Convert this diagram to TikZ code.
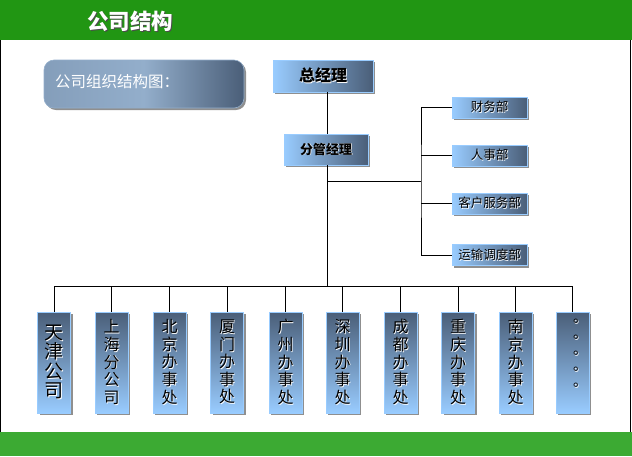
\documentclass[tikz,border=0pt]{standalone}
\usepackage{fontspec}
\setmainfont{Noto Sans CJK SC}
\newfontfamily\cjk{Noto Sans CJK SC}
\usetikzlibrary{shadows}
\definecolor{gtop}{HTML}{219613}
\definecolor{gbot}{HTML}{3CAA33}
\definecolor{lb}{HTML}{99CCFF}
\definecolor{db}{HTML}{4A5E78}
\definecolor{mb}{HTML}{93AECB}
\newcommand\emb[1]{\makebox[0pt][l]{\hspace{0.9pt}\raisebox{-0.9pt}{\color{white}#1}}#1}
\newcommand\embd[1]{\makebox[0pt][l]{\hspace{0.9pt}\raisebox{-0.9pt}{\color{black!70}#1}}#1}
\tikzset{
  shad/.style={drop shadow={shadow xshift=2pt,shadow yshift=-2pt,fill=black!55,opacity=.8}},
  hbox/.style={shad,draw=lb,line width=0.6pt,left color=lb,right color=db,inner sep=0pt,text=black},
  vbox/.style={shad,draw=lb,line width=0.6pt,top color=db,bottom color=lb,inner sep=0pt,
     minimum width=33pt,minimum height=101pt,align=center,text=black,
     font=\cjk\fontsize{16}{17.6}\selectfont},
  link/.style={draw=black,line width=0.9pt},
}
\begin{document}
\begin{tikzpicture}[x=1pt,y=-1pt]
\useasboundingbox (0,0) rectangle (632,456);
% bars and frame
\fill[gtop] (0,0) rectangle (632,40);
\fill[gbot] (0,432) rectangle (632,456);
\draw[black,line width=1pt] (0.5,40) -- (0.5,432);
\draw[black,line width=1pt] (630.5,40) -- (630.5,432);
\node[anchor=west,inner sep=0pt,text=white,font=\cjk\bfseries\fontsize{21.5}{21.5}\selectfont] (title) at (87,22) {\embd{公司结构}};
% caption box
\node[shad,draw=mb,line width=0.6pt,rounded corners=10pt,minimum width=200pt,minimum height=48pt,
  left color=mb!80!db,right color=db,middle color=mb,inner sep=0pt] (cap) at (144,84) {};
\node[anchor=west,inner sep=0pt,text=white,font=\cjk\fontsize{15.5}{15.5}\selectfont] (captxt) at (55,82) {公司组织结构图：};
% managers
\node[hbox,minimum width=100pt,minimum height=32pt,font=\cjk\bfseries\fontsize{16}{16}\selectfont] (zjl) at (323,76) {\emb{总经理}};
\node[hbox,minimum width=84pt,minimum height=31pt,font=\cjk\bfseries\fontsize{13}{13}\selectfont] (fg) at (326,149.5) {\emb{分管经理}};
% departments
\tikzset{dbox/.style={hbox,minimum width=75pt,minimum height=21pt,font=\cjk\fontsize{12.5}{12.5}\selectfont}}
\node[dbox] (cw) at (489.5,107.5) {\emb{财务部}};
\node[dbox] (rs) at (489.5,155.5) {\emb{人事部}};
\node[dbox] (kh) at (489.5,203.5) {\emb{客户服务部}};
\node[dbox] (ys) at (489.5,255) {\emb{运输调度部}};
% offices
\node[vbox,font=\cjk\fontsize{19}{19.5}\selectfont] (b1) at (54,362.5) {\emb{天}\\\emb{津}\\\emb{公}\\\emb{司}};
\node[vbox] (b2) at (111.5,362.5) {\emb{上}\\\emb{海}\\\emb{分}\\\emb{公}\\\emb{司}};
\node[vbox] (b3) at (169.5,362.5) {\emb{北}\\\emb{京}\\\emb{办}\\\emb{事}\\\emb{处}};
\node[vbox] (b4) at (227,362.5) {\emb{厦}\\\emb{门}\\\emb{办}\\\emb{事}\\\emb{处}};
\node[vbox] (b5) at (285.5,362.5) {\emb{广}\\\emb{州}\\\emb{办}\\\emb{事}\\\emb{处}};
\node[vbox] (b6) at (342.5,362.5) {\emb{深}\\\emb{圳}\\\emb{办}\\\emb{事}\\\emb{处}};
\node[vbox] (b7) at (400.5,362.5) {\emb{成}\\\emb{都}\\\emb{办}\\\emb{事}\\\emb{处}};
\node[vbox] (b8) at (458,362.5) {\emb{重}\\\emb{庆}\\\emb{办}\\\emb{事}\\\emb{处}};
\node[vbox] (b9) at (515.5,362.5) {\emb{南}\\\emb{京}\\\emb{办}\\\emb{事}\\\emb{处}};
\node[vbox,font=\cjk\fontsize{14}{16}\selectfont] (b10) at (572.5,362.5) {};
\node[inner sep=0pt,align=center,font=\cjk\fontsize{14}{16}\selectfont] (dots) at (580,354) {\emb{。}\\\emb{。}\\\emb{。}\\\emb{。}\\\emb{。}};
% connectors
\coordinate (hub) at (327,181);
\coordinate (rv) at (421,181);
\coordinate (bus) at (327,286);
\draw[link] (zjl.south -| hub) -- (fg.north -| hub);
\draw[link] (fg.south -| hub) -- (bus);
\draw[link] (hub) -- (rv);
\draw[link] (cw.west) -| (rv) |- (ys.west);
\draw[link] (rs.west) -- (rs.west -| rv);
\draw[link] (kh.west) -- (kh.west -| rv);
\draw[link] (b1.north) -- (b1.north |- bus) -- (b10.north |- bus) -- (b10.north);
\foreach \i in {2,...,9} \draw[link] (b\i.north) -- (b\i.north |- bus);
\end{tikzpicture}
\end{document}
